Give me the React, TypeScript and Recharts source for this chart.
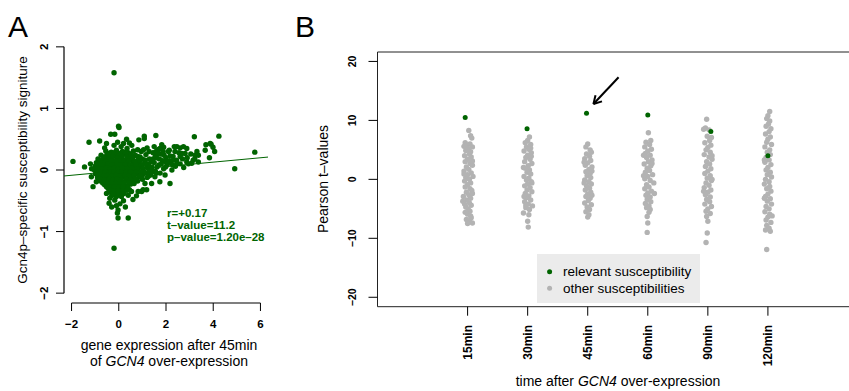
import { ScatterChart, Scatter, XAxis, YAxis, ReferenceLine, ReferenceArea, Legend, Customized } from 'recharts'

type Pt = [number, number]

// ---- panel A: gene expression vs signature ----
const aCore: Pt[] = [
  [-0.55, 0.31], [-0.32, 0.29], [-0.1, 0.32], [0.15, 0.3], [0.4, 0.28], [0.62, 0.31],
  [-0.75, 0.24], [-0.5, 0.25], [-0.36, 0.22], [-0.15, 0.25], [0.05, 0.23], [0.22, 0.26], [0.45, 0.22], [0.7, 0.24], [0.9, 0.21],
  [-0.88, 0.18], [-0.66, 0.17], [-0.45, 0.19], [-0.25, 0.16], [-0.05, 0.18], [0.12, 0.19], [0.3, 0.16], [0.55, 0.18], [0.78, 0.15], [1.0, 0.18],
  [-0.95, 0.12], [-0.72, 0.11], [-0.55, 0.13], [-0.38, 0.1], [-0.18, 0.12], [0.0, 0.11], [0.2, 0.13], [0.37, 0.1], [0.6, 0.12], [0.85, 0.1], [1.1, 0.12],
  [-1.0, 0.06], [-0.8, 0.05], [-0.6, 0.07], [-0.42, 0.04], [-0.28, 0.07], [-0.1, 0.05], [0.08, 0.06], [0.27, 0.04], [0.45, 0.07], [0.68, 0.05], [0.92, 0.06], [1.2, 0.04],
  [-1.03, 0.0], [-0.85, -0.01], [-0.65, 0.01], [-0.48, -0.02], [-0.3, 0.0], [-0.12, -0.01], [0.05, 0.01], [0.22, -0.02], [0.4, 0.0], [0.62, -0.01], [0.82, 0.01], [1.05, -0.02], [1.3, 0.0],
  [-0.98, -0.06], [-0.78, -0.07], [-0.58, -0.05], [-0.4, -0.07], [-0.22, -0.05], [-0.05, -0.06], [0.15, -0.08], [0.33, -0.05], [0.52, -0.07], [0.75, -0.06], [1.0, -0.08],
  [-0.9, -0.12], [-0.7, -0.13], [-0.5, -0.11], [-0.33, -0.13], [-0.15, -0.12], [0.03, -0.14], [0.2, -0.11], [0.4, -0.13], [0.6, -0.12], [0.85, -0.11],
  [-0.78, -0.18], [-0.55, -0.19], [-0.38, -0.17], [-0.2, -0.19], [-0.02, -0.18], [0.15, -0.2], [0.35, -0.17], [0.55, -0.19], [0.8, -0.18],
  [-0.6, -0.24], [-0.42, -0.25], [-0.25, -0.23], [-0.08, -0.25], [0.1, -0.24], [0.3, -0.26], [0.5, -0.23],
  [-0.45, -0.3], [-0.28, -0.31], [-0.1, -0.29], [0.08, -0.31], [0.25, -0.3], [0.45, -0.32],
  [-0.35, -0.36], [-0.15, -0.37], [0.05, -0.35], [0.22, -0.38],
  [-0.3, -0.42], [-0.1, -0.43], [0.12, -0.41],
]

const aCoreFill: Pt[] = [
  [-0.42, 0.27], [-0.2, 0.28], [0.02, 0.27], [0.28, 0.29], [0.52, 0.26],
  [-0.62, 0.21], [-0.42, 0.2], [-0.25, 0.22], [-0.05, 0.2], [0.13, 0.22], [0.34, 0.21], [0.58, 0.2], [0.8, 0.22],
  [-0.78, 0.15], [-0.55, 0.14], [-0.35, 0.15], [-0.15, 0.14], [0.04, 0.16], [0.22, 0.14], [0.42, 0.15], [0.67, 0.14], [0.9, 0.15], [1.12, 0.16],
  [-0.85, 0.09], [-0.65, 0.08], [-0.47, 0.09], [-0.28, 0.08], [-0.08, 0.09], [0.1, 0.08], [0.28, 0.09], [0.5, 0.08], [0.73, 0.09], [0.98, 0.08], [1.25, 0.1],
  [-0.92, 0.03], [-0.72, 0.02], [-0.52, 0.03], [-0.35, 0.02], [-0.2, 0.03], [-0.02, 0.02], [0.16, 0.03], [0.35, 0.02], [0.55, 0.03], [0.78, 0.02], [1.02, 0.03], [1.4, 0.05],
  [-0.95, -0.03], [-0.75, -0.04], [-0.56, -0.03], [-0.38, -0.04], [-0.2, -0.03], [-0.03, -0.04], [0.13, -0.03], [0.31, -0.04], [0.5, -0.03], [0.72, -0.04], [0.93, -0.03], [1.18, -0.05],
  [-0.85, -0.09], [-0.64, -0.1], [-0.48, -0.09], [-0.3, -0.1], [-0.12, -0.09], [0.06, -0.1], [0.25, -0.09], [0.43, -0.1], [0.65, -0.09], [0.9, -0.1],
  [-0.8, -0.15], [-0.6, -0.16], [-0.42, -0.15], [-0.25, -0.16], [-0.07, -0.15], [0.1, -0.16], [0.3, -0.15], [0.5, -0.16], [0.72, -0.15],
  [-0.68, -0.21], [-0.48, -0.22], [-0.3, -0.21], [-0.12, -0.22], [0.05, -0.21], [0.23, -0.22], [0.43, -0.21], [0.65, -0.22],
  [-0.52, -0.27], [-0.35, -0.28], [-0.18, -0.27], [0.0, -0.28], [0.18, -0.27], [0.38, -0.28],
  [-0.38, -0.33], [-0.2, -0.34], [-0.02, -0.33], [0.15, -0.34], [0.35, -0.33],
  [-0.22, -0.39], [-0.02, -0.4], [0.16, -0.39],
]

const aSpread: Pt[] = [
  [1.15, 0.25], [1.3, 0.18], [1.25, 0.08], [1.4, 0.02], [1.45, 0.28], [1.5, 0.12], [1.35, -0.08], [1.55, -0.02],
  [1.6, 0.2], [1.7, 0.08], [1.65, 0.33], [1.75, -0.05], [1.85, 0.15], [1.8, 0.26], [1.9, 0.02], [2.0, 0.2],
  [2.05, 0.08], [2.1, 0.3], [2.2, 0.12], [2.25, 0.0], [2.3, 0.22], [2.4, 0.06], [2.45, 0.16], [2.55, 0.28],
  [2.6, 0.1], [2.7, 0.18], [2.75, 0.04], [2.9, 0.2], [2.95, 0.1], [3.05, 0.26], [3.15, 0.16], [1.2, 0.36],
  [1.05, 0.33], [1.0, -0.15], [1.2, -0.12], [1.1, -0.04], [0.95, 0.3], [1.5, 0.38], [1.9, 0.37], [2.35, 0.38],
  [2.6, 0.36], [2.88, 0.35], [2.81, 0.27], [2.6, 0.22], [2.38, 0.3], [2.31, 0.16], [2.17, 0.23], [2.0, 0.13],
  [2.46, 0.1], [2.74, 0.38], [2.67, 0.27], [2.46, 0.38], [2.14, 0.32], [1.82, 0.41], [1.74, 0.35], [3.31, 0.3],
  [3.22, 0.18], [3.37, 0.24], [3.23, 0.24], [3.37, 0.13], [3.09, 0.11], [2.88, 0.13],
  [3.69, 0.41], [3.87, 0.43], [3.99, 0.37], [4.06, 0.3], [3.84, 0.2], [3.91, 0.42], [3.66, 0.32],
  [1.15, 0.1], [1.28, 0.3], [1.38, 0.14], [1.42, -0.03], [1.55, 0.22], [1.62, 0.05], [1.72, 0.18], [1.8, 0.1],
  [1.92, 0.24], [1.98, 0.05], [1.45, 0.18], [1.3, -0.02], [1.25, -0.1], [1.58, 0.3], [1.68, 0.27], [1.88, 0.3],
  [2.15, 0.15], [2.28, 0.08],
]

const aLower: Pt[] = [
  [1.74, -0.19], [2.17, -0.22], [1.96, -0.08], [1.53, -0.11], [1.11, -0.22], [1.18, -0.32], [0.97, -0.35],
  [1.6, -0.05], [1.39, -0.22], [1.03, -0.32], [0.82, -0.35], [0.54, -0.35], [0.4, -0.41], [0.11, -0.43],
  [-0.17, -0.49], [-0.41, -0.54], [-0.38, -0.46], [-0.24, -0.38], [-0.52, -0.38], [0.05, -0.55], [0.2, -0.5],
  [-0.1, -0.58], [0.28, -0.6], [0.6, -0.48], [0.75, -0.42], [-0.3, -0.6], [-0.03, -0.65], [-0.06, -0.7],
  [0.4, -0.78], [-0.03, -0.78],
]

const aOutliers: Pt[] = [
  [-0.2, 1.58], [0.01, 0.69], [-0.01, 0.71], [-0.34, 0.58], [-0.17, 0.58], [0.33, 0.5], [1.08, 0.55],
  [1.08, 0.51], [1.57, 0.56], [0.85, 0.49], [-1.26, 0.45], [-0.81, 0.47], [-0.52, 0.43], [-0.6, 0.36],
  [-0.2, 0.4], [0.1, 0.38], [0.35, 0.35], [0.55, 0.4], [0.8, 0.33], [-0.05, 0.45], [0.45, 0.44], [0.2, 0.43],
  [-1.94, 0.14], [-1.45, 0.05], [-1.16, -0.11], [-0.95, -0.19], [-1.09, -0.27], [-1.2, 0.1], [-1.15, 0.02],
  [3.2, 0.54], [4.24, 0.55], [5.76, 0.29], [4.91, 0.02], [-0.2, -1.27],
]

const fitLine: Pt[] = [[-2.32, -0.097], [6.32, 0.21]]
const aXTicks = [-2, 0, 2, 4, 6]
const aYTicks = [-2, -1, 0, 1, 2]
const statLines = ['r=+0.17', 't\u2013value=11.2', 'p\u2013value=1.20e\u201328']

// ---- panel B: Pearson t-values per time point ----
const timeLabels = ['15min', '30min', '45min', '60min', '90min', '120min']
const bYTicks = [-20, -10, 0, 10, 20]

const relevant: Pt[] = [[0.96, 10.5], [1.99, 8.6], [2.98, 11.2], [4.0, 10.9], [5.05, 8.1], [6.0, 4.0]]

const col15: Pt[] = [
  [1.02, 8.3], [1.05, 7.4], [1.07, 7.0], [0.96, 6.2], [1.04, 6.0], [0.99, 5.8], [1.08, 5.5], [0.94, 5.6], [1.01, 5.1],
  [1.05, 4.7], [0.97, 4.9], [1.03, 4.3], [0.95, 4.0], [1.06, 3.8], [1.0, 3.4], [0.96, 3.0], [1.04, 2.7], [1.08, 2.4],
  [0.98, 2.1], [1.02, 1.7], [0.94, 1.4], [1.06, 1.1], [1.0, 0.8], [1.09, 0.5], [0.97, 0.3], [1.03, 0.0], [0.95, -0.3],
  [1.05, -0.6], [1.0, -0.9], [0.96, -1.3], [1.04, -1.6], [1.07, -1.9], [0.98, -2.2], [1.02, -2.6], [0.93, -2.9],
  [1.05, -3.2], [0.99, -3.5], [0.92, -3.7], [1.03, -4.0], [1.06, -4.4], [0.97, -4.7], [1.01, -5.0], [1.04, -5.4],
  [0.96, -5.6], [1.0, -5.9], [1.05, -6.2], [0.98, -6.8], [1.03, -7.0], [1.08, -7.4], [1.0, -7.5], [1.06, -6.5],
  [0.95, -4.2], [1.08, -2.4], [0.94, 0.9], [1.08, 3.1], [1.0, 5.3],
]
const col30: Pt[] = [
  [2.03, 7.2], [2.0, 6.6], [1.96, 6.2], [2.05, 5.9], [1.98, 5.5], [2.02, 5.1], [1.94, 4.8], [2.06, 4.5], [2.0, 4.1],
  [1.97, 3.7], [2.04, 3.4], [1.95, 3.0], [2.07, 2.7], [2.01, 2.3], [1.96, 1.9], [2.03, 1.6], [1.99, 1.2], [2.05, 0.9],
  [1.94, 0.5], [2.02, 0.2], [1.98, -0.1], [2.06, -0.4], [2.0, -0.8], [1.95, -1.1], [2.04, -1.4], [1.99, -1.8],
  [2.07, -2.1], [1.96, -2.4], [2.02, -2.8], [1.98, -3.1], [2.05, -3.5], [1.95, -3.8], [2.01, -4.2], [2.08, -4.5],
  [1.97, -4.8], [2.03, -5.1], [1.93, -5.7], [2.02, -6.0], [2.0, -7.1], [2.01, -8.1], [2.06, 3.9], [1.93, 2.0],
  [2.07, -0.6], [1.94, -2.9], [2.05, 5.3], [1.97, -4.4],
]
const col45: Pt[] = [
  [3.0, 6.0], [2.97, 5.5], [3.04, 5.0], [3.06, 4.6], [2.98, 4.3], [3.03, 3.9], [2.95, 3.5], [3.05, 3.2], [3.0, 2.8],
  [2.96, 2.4], [3.07, 2.1], [3.02, 1.7], [2.97, 1.3], [3.04, 1.0], [2.99, 0.6], [3.05, 0.3], [2.95, -0.1], [3.02, -0.4],
  [3.06, -0.8], [2.98, -1.1], [3.03, -1.5], [2.96, -1.8], [3.05, -2.2], [3.0, -2.5], [2.97, -2.9], [3.04, -3.2],
  [3.01, -3.6], [2.95, -4.0], [3.06, -4.3], [2.99, -4.7], [3.03, -5.1], [2.97, -5.5], [3.02, -6.0], [3.0, -6.4],
  [3.07, 1.4], [2.94, 2.9], [3.07, -2.7], [2.94, -0.6],
]
const col60: Pt[] = [
  [4.01, 7.9], [4.05, 6.6], [3.97, 6.3], [4.03, 5.9], [3.95, 5.5], [4.06, 5.1], [4.0, 4.8], [3.96, 4.4], [4.04, 4.1],
  [3.98, 3.7], [4.07, 3.3], [4.01, 3.0], [3.94, 2.6], [4.05, 2.3], [3.99, 1.9], [4.03, 1.5], [3.96, 1.2], [4.08, 0.8],
  [4.0, 0.5], [3.95, 0.1], [4.04, -0.2], [4.1, -0.6], [3.98, -0.9], [4.02, -1.3], [3.95, -1.6], [4.06, -2.0],
  [4.0, -2.3], [3.97, -2.7], [4.04, -3.0], [3.99, -3.4], [4.05, -3.8], [3.96, -4.1], [4.02, -4.5], [3.98, -4.8],
  [4.04, -5.1], [3.99, -6.3], [4.0, -7.4], [3.99, -9.0], [4.11, -2.4], [3.93, 0.6], [4.07, 2.7], [3.93, 4.1], [4.02, -5.6],
]
const col90: Pt[] = [
  [4.98, 10.2], [4.96, 8.7], [5.02, 8.4], [5.06, 7.1], [4.99, 7.3], [5.03, 6.6], [4.95, 6.2], [5.05, 5.8], [5.0, 5.4],
  [4.97, 5.0], [5.04, 4.6], [4.94, 4.2], [5.02, 3.8], [5.07, 3.4], [4.98, 3.0], [5.03, 2.6], [4.96, 2.2], [5.05, 1.8],
  [5.0, 1.4], [4.95, 1.0], [5.04, 0.6], [4.99, 0.2], [5.06, -0.2], [4.97, -0.6], [5.02, -1.0], [4.94, -1.4],
  [5.05, -1.8], [5.0, -2.2], [4.96, -2.6], [5.04, -3.0], [4.98, -3.4], [5.03, -3.8], [4.95, -4.2], [5.06, -4.6],
  [5.0, -5.0], [4.97, -5.4], [5.04, -5.8], [4.98, -6.3], [5.0, -7.1], [4.99, -9.1], [4.97, -10.7], [4.93, 8.5],
  [5.07, 0.0], [4.93, -2.0], [5.07, 4.0],
]
const col120: Pt[] = [
  [6.03, 11.5], [6.0, 10.8], [5.98, 10.3], [6.03, 9.9], [6.01, 9.4], [5.97, 9.0], [6.05, 8.6], [6.02, 8.1], [5.96, 7.7],
  [6.04, 7.2], [6.0, 6.8], [5.98, 6.3], [6.06, 5.9], [5.95, 5.5], [6.03, 5.0], [5.99, 4.6], [6.04, 4.2], [5.97, 3.7],
  [6.02, 3.3], [5.95, 2.9], [6.05, 2.5], [6.0, 2.0], [5.97, 1.6], [6.04, 1.2], [5.99, 0.8], [6.06, 0.4], [5.96, 0.0],
  [6.02, -0.4], [5.94, -0.8], [6.03, -1.2], [5.98, -1.6], [6.05, -2.0], [6.0, -2.5], [5.96, -2.9], [6.04, -3.3],
  [5.99, -3.7], [6.06, -4.2], [5.97, -4.6], [6.02, -5.0], [5.95, -5.5], [6.03, -5.9], [6.0, -6.4], [5.97, -6.9],
  [6.05, -7.3], [5.98, -7.8], [6.02, -8.3], [5.96, -8.6], [6.04, -8.8], [5.98, -11.9], [6.07, -6.2], [5.94, 3.3], [5.94, -3.2],
]

// arrow pointing at the 45min relevant value
const arrowShaft: Pt[] = [[3.514, 17.31], [3.095, 12.78]]
const arrowBarbs: Pt[] = [[3.238, 13.22], [3.13, 14.27]]

const GREEN = '#006400'
const GRAY = '#b3b3b3'
const FONT = '"Liberation Sans", Arial, Helvetica, sans-serif'

const toObj = (arr: Pt[]) => arr.map(([x, y]) => ({ x, y }))
const minus = (v: number) => (v < 0 ? '\u2212' + Math.abs(v) : String(v))

const dot = (fill: string, r: number) => (p: any) => <circle cx={p.cx} cy={p.cy} r={r} fill={fill} />

const AXTick = (p: any) => (
  <text x={p.x} y={327.5} textAnchor="middle" fontSize={11.5} fontWeight="bold" fill="#000">
    {minus(p.payload.value)}
  </text>
)
const AYTick = (p: any) => (
  <text transform={`translate(47.5,${p.y}) rotate(-90)`} textAnchor="middle" fontSize={11.5} fontWeight="bold" fill="#000">
    {minus(p.payload.value)}
  </text>
)
const BXTick = (p: any) => (
  <text transform={`translate(${p.x + 4.2},325) rotate(-90)`} textAnchor="end" fontSize={12} fontWeight="bold" fill="#000">
    {timeLabels[p.payload.value - 1]}
  </text>
)
const BYTick = (p: any) => (
  <text transform={`translate(66,${p.y}) rotate(-90)`} textAnchor="middle" fontSize={10.5} fontWeight="bold" fill="#000">
    {minus(p.payload.value)}
  </text>
)

const TextA = () => (
  <g fontFamily={FONT}>
    <text x={8} y={37} fontSize={30}>A</text>
    <text transform="translate(27,170) rotate(-90)" textAnchor="middle" fontSize={13.5}>
      Gcn4p{'\u2013'}specific susceptibility signiture
    </text>
    <text x={169} y={350} textAnchor="middle" fontSize={14}>gene expression after 45min</text>
    <text x={169} y={366} textAnchor="middle" fontSize={14}>
      of <tspan fontStyle="italic">GCN4</tspan> over-expression
    </text>
    {statLines.map((s, i) => (
      <text key={s} x={167} y={217 + i * 12} fontSize={11.5} fontWeight="bold" fill={GREEN}>{s}</text>
    ))}
  </g>
)

const TextB = () => (
  <g fontFamily={FONT}>
    <text x={5} y={37} fontSize={30}>B</text>
    <text transform="translate(38,179) rotate(-90)" textAnchor="middle" fontSize={14}>
      Pearson t{'\u2013'}values
    </text>
    <text x={328} y={386} textAnchor="middle" fontSize={14}>
      time after <tspan fontStyle="italic">GCN4</tspan> over-expression
    </text>
  </g>
)

const LegendBox = () => (
  <svg width={163} height={49} style={{ display: 'block', fontFamily: FONT }}>
    <rect x={0} y={0} width={163} height={49} fill="#ebebeb" />
    <circle cx={12.6} cy={17.7} r={2.5} fill={GREEN} />
    <text x={26} y={22} fontSize={13.5} fill="#000">relevant susceptibility</text>
    <circle cx={12.6} cy={34.3} r={2.5} fill={GRAY} />
    <text x={26} y={38.5} fontSize={13.5} fill="#000">other susceptibilities</text>
  </svg>
)

const aGroups = [aCore, aCoreFill, aSpread, aLower, aOutliers]
const grayCols = [col15, col30, col45, col60, col90, col120]

export default function App() {
  return (
    <div style={{ position: 'absolute', left: 0, top: 0, width: 849, height: 391, overflow: 'hidden', background: '#fff', fontFamily: FONT }}>
      <div style={{ position: 'absolute', left: 0, top: 0 }}>
        <ScatterChart width={300} height={391} margin={{ top: 37, right: 32, bottom: 58, left: 24 }}>
          <XAxis type="number" dataKey="x" domain={[-2.32, 6.32]} ticks={aXTicks} allowDataOverflow
            axisLine={false} tickLine={{ stroke: '#000' }} tickSize={8} height={30} tick={AXTick} />
          <YAxis type="number" dataKey="y" domain={[-2.16, 2.16]} ticks={aYTicks} allowDataOverflow
            axisLine={false} tickLine={{ stroke: '#000' }} tickSize={8} width={40} tick={AYTick} />
          <ReferenceLine segment={[{ x: -2, y: -2.16 }, { x: 6, y: -2.16 }]} stroke="#000" strokeWidth={1.2} ifOverflow="visible" />
          <ReferenceLine segment={[{ x: -2.32, y: -2 }, { x: -2.32, y: 2 }]} stroke="#000" strokeWidth={1.2} ifOverflow="visible" />
          {aGroups.map((g, i) => (
            <Scatter key={i} data={toObj(g)} shape={dot(GREEN, 2.7)} isAnimationActive={false} />
          ))}
          <ReferenceLine segment={toObj(fitLine)} stroke={GREEN} strokeWidth={1} ifOverflow="visible" />
          <Customized component={TextA} />
        </ScatterChart>
      </div>
      <div style={{ position: 'absolute', left: 290, top: 0 }}>
        <ScatterChart width={573} height={391} margin={{ top: 52, right: 5, bottom: 54.3, left: 47.5 }}>
          <XAxis type="number" dataKey="x" domain={[-0.5, 7.5]} ticks={[1, 2, 3, 4, 5, 6]} allowDataOverflow
            axisLine={false} tickLine={{ stroke: '#000' }} tickSize={9} height={30} tick={BXTick} />
          <YAxis type="number" dataKey="y" domain={[-21.6, 21.6]} ticks={bYTicks} allowDataOverflow
            axisLine={false} tickLine={{ stroke: '#000' }} tickSize={9} width={40} tick={BYTick} />
          <ReferenceArea x1={-0.5} x2={7.5} y1={-21.6} y2={21.6} fill="none" stroke="#222" strokeWidth={1} ifOverflow="visible" />
          {grayCols.map((c, i) => (
            <Scatter key={i} data={toObj(c)} shape={dot(GRAY, 2.7)} isAnimationActive={false} />
          ))}
          <Scatter data={toObj(relevant)} shape={dot(GREEN, 2.5)} isAnimationActive={false} />
          <ReferenceLine segment={toObj(arrowShaft)} stroke="#000" strokeWidth={2} ifOverflow="visible" />
          {arrowBarbs.map((b, i) => (
            <ReferenceLine key={i} segment={[{ x: arrowShaft[1][0], y: arrowShaft[1][1] }, { x: b[0], y: b[1] }]}
              stroke="#000" strokeWidth={2} ifOverflow="visible" />
          ))}
          <Legend layout="horizontal" verticalAlign="middle" align="center"
            wrapperStyle={{ left: 246.7, top: 254, width: 163, height: 49 }} content={() => <LegendBox />} />
          <Customized component={TextB} />
        </ScatterChart>
      </div>
    </div>
  )
}
